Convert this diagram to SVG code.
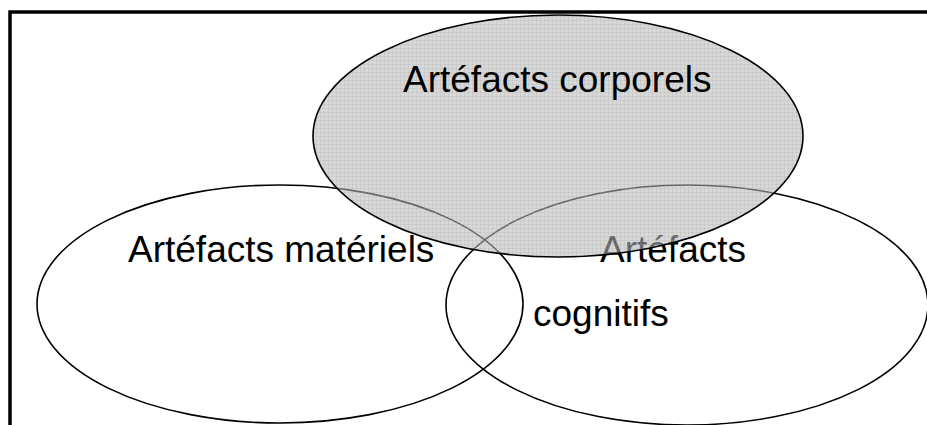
<svg xmlns="http://www.w3.org/2000/svg" width="927" height="425" viewBox="0 0 927 425">
<style>
.lbl{font-family:"Liberation Sans",Arial,sans-serif;font-size:37px;fill:#000}
.ell{stroke:#000;stroke-width:1.6}
</style>
<defs>
<pattern id="stip" width="4" height="4" patternUnits="userSpaceOnUse">
<rect width="4" height="4" fill="#b7b7b7" fill-opacity="0.54"/>
<rect width="4" height="1" fill="#a0a0a0" fill-opacity="0.2"/>
<rect width="1" height="4" fill="#a0a0a0" fill-opacity="0.2"/>
</pattern>
</defs>
<rect x="0" y="0" width="927" height="425" fill="#fff"/>
<rect id="frame" x="10" y="12" width="940" height="440" fill="none" stroke="#000" stroke-width="3.5"/>
<g id="materiels">
<ellipse class="ell" cx="280" cy="304" rx="243" ry="119" fill="none"/>
<text class="lbl" x="128" y="262">Artéfacts matériels</text>
</g>
<g id="cognitifs">
<ellipse class="ell" cx="687" cy="305" rx="241" ry="120" fill="none"/>
<text class="lbl" x="600" y="262">Artéfacts</text>
<text class="lbl" x="533" y="326">cognitifs</text>
</g>
<g id="corporels">
<ellipse class="ell" cx="558" cy="136" rx="245" ry="121" fill="url(#stip)"/>
<text class="lbl" x="403" y="92">Artéfacts corporels</text>
</g>
</svg>
